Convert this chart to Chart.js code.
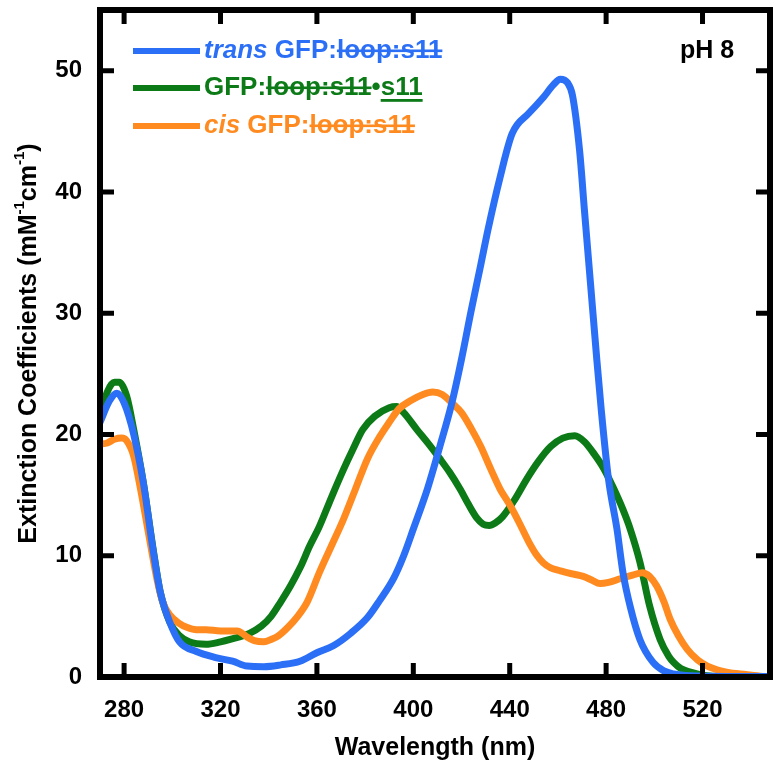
<!DOCTYPE html>
<html>
<head>
<meta charset="utf-8">
<script src="https://cdn.jsdelivr.net/npm/chart.js@4.4.1/dist/chart.umd.min.js"></script>
<style>
  body { margin: 0; background: #fff; }
  #wrap { width: 779px; height: 769px; }
</style>
</head>
<body>
<div id="wrap"><canvas id="myChart" width="779" height="769"></canvas></div>
<script>
// wavelength (nm) / extinction coefficient (mM-1 cm-1)
var nmTrans = [270, 274, 277, 280, 284, 288, 292, 295, 299, 303, 310, 318, 325, 331, 338, 345, 353, 360, 367, 374, 381, 386, 392, 396, 400, 406, 411, 416, 420, 424, 428, 431, 436, 441, 448, 454, 458, 461, 464, 466, 469, 471, 473.5, 476, 478, 481, 484.5, 487, 490, 494, 499.5, 504, 508, 515, 530, 548];
var epsTrans = [21.0, 22.8, 23.4, 22.6, 20.0, 16.0, 10.5, 7.0, 4.5, 2.9, 2.1, 1.6, 1.3, 0.9, 0.85, 1.0, 1.3, 2.0, 2.6, 3.6, 4.9, 6.3, 8.2, 10.0, 12.2, 15.6, 19.0, 22.6, 26.2, 30.2, 34.0, 36.9, 41.2, 44.8, 46.5, 47.8, 48.8, 49.3, 49.0, 48.0, 43.4, 38.5, 32.5, 26.5, 22.0, 16.3, 12.2, 8.6, 5.8, 3.1, 1.2, 0.5, 0.25, 0.1, 0.05, 0.05];

var nmS11 = [270, 273, 276, 278, 281, 284, 288, 292, 295, 299, 303, 307, 314, 320, 324, 332, 337, 341, 345, 349, 353, 357, 361, 366, 371, 375, 379, 384, 390, 393, 396, 401.5, 406, 411, 415, 419.4, 423, 426.4, 429, 431.5, 434, 437, 442, 447, 452, 457, 462, 467, 471, 475, 479, 483, 487, 490, 494, 498, 502.4, 506, 508, 511, 515, 520, 530, 548];
var epsS11 = [21.5, 23.5, 24.3, 24.3, 23.2, 20.4, 16.0, 10.6, 7.0, 4.5, 3.4, 2.9, 2.7, 2.9, 3.1, 3.6, 4.2, 5.0, 6.2, 7.5, 9.0, 10.8, 12.4, 14.8, 17.1, 18.8, 20.4, 21.5, 22.2, 22.3, 21.8, 20.4, 19.3, 18.0, 16.9, 15.5, 14.2, 13.1, 12.6, 12.5, 12.7, 13.2, 14.6, 16.3, 17.8, 19.0, 19.7, 19.9, 19.4, 18.4, 17.2, 15.6, 13.8, 12.2, 9.5, 5.9, 3.1, 1.7, 1.2, 0.7, 0.4, 0.15, 0.05, 0.05];

var nmCis = [270, 273, 276, 279, 281, 284, 287, 290, 293.6, 296, 299, 303, 306, 310, 314, 320, 327, 329, 331, 334, 338, 341, 344, 348, 352, 356, 361, 366, 371, 376, 381, 386, 390, 394, 399, 404, 408, 412, 416.5, 420, 424, 428, 432, 436, 440, 444, 448, 451, 454, 457, 461, 466, 470.5, 474, 477.5, 481, 485.8, 491, 495, 498, 501, 504, 506.5, 510, 513.6, 518, 522, 526, 530, 538, 545, 548];
var epsCis = [19.2, 19.3, 19.6, 19.7, 19.5, 18.2, 15.3, 12.0, 8.1, 6.2, 5.1, 4.4, 4.1, 3.9, 3.9, 3.8, 3.8, 3.6, 3.3, 3.0, 2.9, 3.1, 3.4, 4.1, 5.0, 6.2, 8.6, 10.8, 13.0, 15.5, 18.0, 19.8, 21.0, 22.1, 22.8, 23.3, 23.5, 23.3, 22.5, 21.8, 20.5, 19.0, 17.2, 15.5, 14.2, 12.7, 11.1, 10.1, 9.4, 9.0, 8.75, 8.5, 8.3, 8.0, 7.7, 7.8, 8.1, 8.4, 8.6, 8.3, 7.5, 6.2, 4.8, 3.4, 2.3, 1.4, 0.9, 0.6, 0.4, 0.2, 0.05, 0.03];

var xTicks = [280, 320, 360, 400, 440, 480, 520];
var yTicks = [0, 10, 20, 30, 40, 50];

var seriesLabels = ["trans GFP:loop:s11", "GFP:loop:s11•s11", "cis GFP:loop:s11"];
var seriesColors = ["#2b6ff7", "#0c7b17", "#ff8b20"];
// i = italic, s = strike, u = underline
var legendRuns = [
    [{t: "trans", i: 1}, {t: " GFP:"}, {t: "loop:s11", s: 1}],
    [{t: "GFP:"}, {t: "loop:s11", s: 1}, {t: "•"}, {t: "s11", u: 1}],
    [{t: "cis", i: 1}, {t: " GFP:"}, {t: "loop:s11", s: 1}]
];

var FONT = '"Liberation Sans", Arial, sans-serif';

function pts(xs, ys) {
    return xs.map(function(v, k){ return {x: v, y: ys[k]}; });
}

function drawRuns(ctx, x, y, runs, size) {
    runs.forEach(function(r){
        ctx.font = (r.i ? "italic " : "") + "bold " + size + "px " + FONT;
        var w = ctx.measureText(r.t).width;
        ctx.fillText(r.t, x, y);
        if (r.s) ctx.fillRect(x, y - 1.5, w, 2.6);
        if (r.u) ctx.fillRect(x, y + 11, w, 2.8);
        x += w;
    });
}

var framePlugin = {
    id: "frame",
    afterDatasetsDraw: function(chart) {
        var ctx = chart.ctx, a = chart.chartArea;
        var sx = chart.scales.x, sy = chart.scales.y;
        ctx.save();
        ctx.strokeStyle = "#000";
        ctx.lineWidth = 5;
        ctx.beginPath();
        xTicks.forEach(function(v){
            var px = sx.getPixelForValue(v);
            ctx.moveTo(px, a.bottom); ctx.lineTo(px, a.bottom - 14);
            ctx.moveTo(px, a.top); ctx.lineTo(px, a.top + 14);
        });
        yTicks.forEach(function(v){
            var py = sy.getPixelForValue(v);
            if (py > a.bottom - 3) return;
            ctx.moveTo(a.left, py); ctx.lineTo(a.left + 14, py);
            ctx.moveTo(a.right, py); ctx.lineTo(a.right - 14, py);
        });
        ctx.stroke();
        ctx.lineWidth = 6;
        ctx.strokeRect(a.left, a.top, a.right - a.left, a.bottom - a.top);

        // legend
        ctx.textBaseline = "middle";
        ctx.textAlign = "left";
        var ly = [51, 88, 126];
        chart.data.datasets.forEach(function(ds, k){
            ctx.strokeStyle = ds.borderColor;
            ctx.fillStyle = ds.borderColor;
            ctx.lineWidth = 6;
            ctx.beginPath();
            ctx.moveTo(133, ly[k]); ctx.lineTo(200, ly[k]);
            ctx.stroke();
            drawRuns(ctx, 204, ly[k], legendRuns[k], 26);
        });

        // pH label
        ctx.fillStyle = "#000";
        ctx.font = "bold 25px " + FONT;
        ctx.fillText("pH 8", 680, 51);

        // y title with superscripts
        ctx.translate(29, (a.top + a.bottom) / 2);
        ctx.rotate(-Math.PI / 2);
        var parts = [
            {t: "Extinction Coefficients (mM", sup: 0},
            {t: "-1", sup: 1},
            {t: "cm", sup: 0},
            {t: "-1", sup: 1},
            {t: ")", sup: 0}
        ];
        var total = 0;
        parts.forEach(function(p){
            ctx.font = "bold " + (p.sup ? 15 : 25) + "px " + FONT;
            p.w = ctx.measureText(p.t).width;
            total += p.w;
        });
        var cx = -total / 2;
        parts.forEach(function(p){
            ctx.font = "bold " + (p.sup ? 15 : 25) + "px " + FONT;
            ctx.fillText(p.t, cx, p.sup ? -9 : 0);
            cx += p.w;
        });
        ctx.restore();
    }
};

var ctx = document.getElementById("myChart");

var data = {
    datasets: [
        { label: seriesLabels[0], data: pts(nmTrans, epsTrans), borderColor: seriesColors[0], order: 0 },
        { label: seriesLabels[1], data: pts(nmS11, epsS11), borderColor: seriesColors[1], order: 2 },
        { label: seriesLabels[2], data: pts(nmCis, epsCis), borderColor: seriesColors[2], order: 1 }
    ]
};
data.datasets.forEach(function(ds){
    ds.borderWidth = 7;
    ds.pointRadius = 0;
    ds.fill = false;
    ds.cubicInterpolationMode = "monotone";
    ds.borderJoinStyle = "round";
    ds.borderCapStyle = "round";
});

var options = {
    responsive: false,
    animation: false,
    layout: { padding: { top: 10, right: 9, left: 0, bottom: 0 } },
    plugins: { legend: { display: false }, tooltip: { enabled: false } },
    scales: {
        x: {
            type: "linear",
            min: 270,
            max: 548,
            grid: { display: false, drawTicks: false },
            border: { display: false },
            afterBuildTicks: function(s){ s.ticks = xTicks.map(function(v){ return {value: v}; }); },
            afterFit: function(s){ s.height = 92; s.paddingLeft = 0; s.paddingRight = 0; },
            ticks: { color: "#000", padding: 19, maxRotation: 0, font: { family: FONT, size: 24, weight: "bold" } },
            title: { display: true, text: "Wavelength (nm)", color: "#000", padding: { top: 4, bottom: 6 }, font: { family: FONT, size: 25, weight: "bold" } }
        },
        y: {
            min: 0,
            max: 55,
            grid: { display: false, drawTicks: false },
            border: { display: false },
            afterBuildTicks: function(s){ s.ticks = yTicks.map(function(v){ return {value: v}; }); },
            afterFit: function(s){ s.width = 100; s.paddingTop = 0; s.paddingBottom = 0; },
            ticks: { color: "#000", padding: 18, font: { family: FONT, size: 24, weight: "bold" } }
        }
    }
};

var myChart = new Chart(ctx, {
    type: "line",
    data: data,
    options: options,
    plugins: [framePlugin]
});
</script>
</body>
</html>
